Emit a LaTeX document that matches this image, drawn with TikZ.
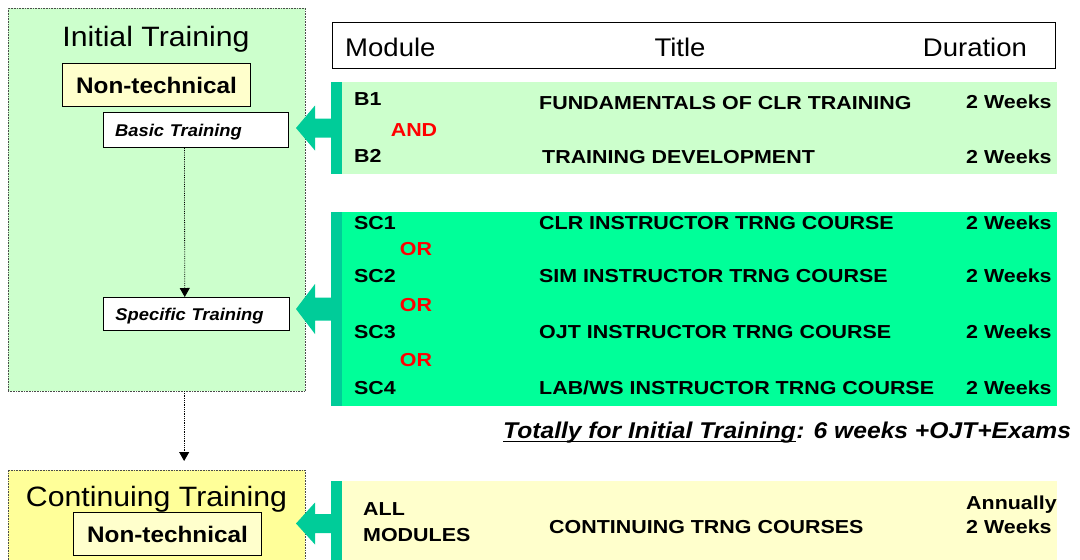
\documentclass[tikz,border=0pt]{standalone}
\usepackage{fontspec}
\setmainfont{Liberation Sans}[FakeStretch=1.08]
\newfontfamily\grpfam{Liberation Sans}[FakeStretch=1.14]
\usetikzlibrary{arrows.meta}

\definecolor{paleGreen}{HTML}{CCFFCC}
\definecolor{seaGreen}{HTML}{00FF99}
\definecolor{barTeal}{HTML}{00CC99}
\definecolor{paleYellow}{HTML}{FFFFCC}
\definecolor{lemon}{HTML}{FFFF99}

\newcommand\grpfont{\grpfam\fontsize{18.8}{21}\selectfont\bfseries}
\newcommand\headfont{\fontsize{25.5}{28}\selectfont}
\newcommand\panelfont{\fontsize{28}{32}\selectfont}
\newcommand\ntfont{\fontsize{22.5}{26}\selectfont\bfseries}
\newcommand\subfont{\fontsize{17}{19}\selectfont\bfseries\itshape}
\newcommand\totfont{\fontsize{22.8}{26}\selectfont\bfseries\itshape}

\tikzset{
  panel/.style={draw=black!70, densely dotted, line width=0.6pt, inner sep=0pt, outer sep=0pt, anchor=north west},
  grpbox/.style={inner sep=0pt, outer sep=0pt, anchor=north west, minimum width=726pt},
  ntbox/.style={draw, line width=0.9pt, fill=paleYellow, anchor=north west, font=\ntfont,
    text height=16pt, text depth=0pt, minimum width=187.5pt, minimum height=42.5pt},
  trbox/.style={draw, line width=0.9pt, fill=white, anchor=north west, font=\subfont,
    text height=12.2pt, text depth=0pt, inner xsep=12pt, text width=161.6pt, align=left,
    minimum width=185.6pt},
  lbl/.style={inner sep=0pt, anchor=base west, font=\grpfont},
  hd/.style={inner sep=0pt, anchor=base west, font=\headfont},
  pt/.style={inner sep=0pt, anchor=base, font=\panelfont},
  dotarr/.style={densely dotted, line width=0.8pt, -{Triangle[width=10pt,length=9pt]}}
}

\begin{document}
\begin{tikzpicture}[x=1pt,y=-1pt]
\useasboundingbox (0,0) rectangle (1080,560);
\clip (0,0) rectangle (1080,560);

% left panels
\node[panel, fill=paleGreen, minimum width=297.3pt, minimum height=383pt] (init) at (8,8) {};
\node[panel, fill=lemon, minimum width=297.3pt, minimum height=100pt] (cont) at (8,470) {};
\node[pt] (initt) at (156,46) {Initial Training};
\node[pt] (contt) at (156.5,506) {Continuing Training};
\node[ntbox] (nt1) at (62.3,63.3) {Non-technical};
\node[ntbox] (nt2) at (73.3,512.3) {Non-technical};
\node[trbox, minimum height=35pt] (basic) at (102.7,112.3) {Basic Training};
\node[trbox, minimum height=33pt] (spec) at (103,297) {Specific Training};
\draw[dotarr] ([xshift=-11.5pt]basic.south) -- ([xshift=-11.5pt]spec.north);
\draw[dotarr, shorten >=9pt] ([xshift=27.5pt]init.south) -- ([xshift=27.5pt]init.south |- cont.north);

% header
\node[draw, line width=0.9pt, fill=white, anchor=north west, minimum width=723pt, minimum height=45.5pt] (head) at (332,22) {};
\node[hd] (hmod) at (345,56.5) {Module};
\node[hd, anchor=base] (htit) at (680,56.5) {Title};
\node[hd] (hdur) at (922.7,56.5) {Duration};

% module groups
\node[grpbox, fill=paleGreen, minimum height=92pt] (bgrp) at (331,82) {};
\node[grpbox, fill=seaGreen, minimum height=194pt] (sgrp) at (331,212) {};
\node[grpbox, fill=paleYellow, minimum height=86pt] (cgrp) at (331,480.5) {};
\foreach \g/\h/\s in {bgrp/22.5/9.5, sgrp/25/11.5, cgrp/21/9.5} {
  \fill[barTeal] (\g.north west) rectangle ([xshift=11pt]\g.south west);
  \fill[barTeal, shift={(\g.west)}] (-35,0) -- (-16,-\h) -- (-16,-\s) -- (1,-\s)
    -- (1,\s) -- (-16,\s) -- (-16,\h) -- cycle;
}

% basic modules
\node[lbl] (b1) at (354,105) {B1};
\node[lbl, red, anchor=base] (and) at (414,136) {AND};
\node[lbl] (b2) at (354,162.5) {B2};
\node[lbl] (b1t) at (539,109) {FUNDAMENTALS OF CLR TRAINING};
\node[lbl] (b2t) at (542,163) {TRAINING DEVELOPMENT};
\node[lbl] (b1d) at (966,108) {2 Weeks};
\node[lbl] (b2d) at (966,163) {2 Weeks};

% specific modules
\foreach \n/\y/\crs in {1/229/CLR, 2/282.5/SIM, 3/338/OJT, 4/394.5/{LAB/WS}} {
  \node[lbl] (sc\n) at (354,\y) {SC\n};
  \node[lbl] (sct\n) at (539,\y) {\crs\ INSTRUCTOR TRNG COURSE};
  \node[lbl] (scd\n) at (966,\y) {2 Weeks};
}
\foreach \y [count=\i] in {255.5,311,366.5}
  \node[lbl, red, anchor=base] (or\i) at (416,\y) {OR};

% total
\node[inner sep=0pt, anchor=base west, font=\totfont] (tot) at (503,438) {Totally for Initial Training};
\node[inner sep=0pt, anchor=base west, font=\totfont] (tot2) at (tot.base east) {: 6 weeks +OJT+Exams};
\draw[line width=1.6pt] ([yshift=-3.5pt]tot.base west) -- ([yshift=-3.5pt]tot.base east);

% continuing modules
\node[lbl] (all) at (363,515) {ALL};
\node[lbl] (mods) at (363,541.5) {MODULES};
\node[lbl] (ct) at (549,533) {CONTINUING TRNG COURSES};
\node[lbl] (ann) at (966,509) {Annually};
\node[lbl] (cd) at (966,533) {2 Weeks};
\end{tikzpicture}
\end{document}
